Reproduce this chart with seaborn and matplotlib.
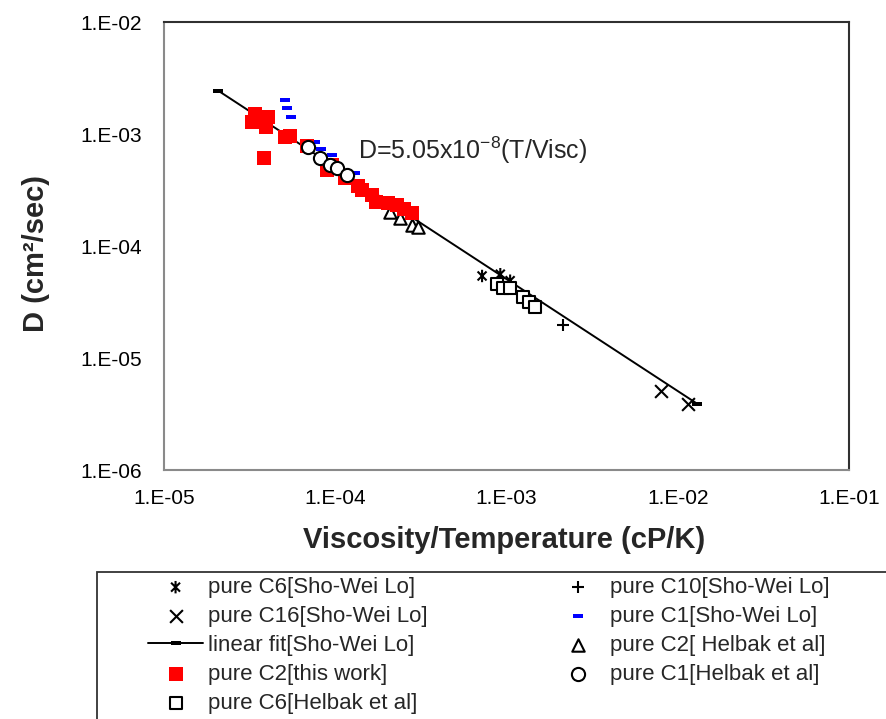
import matplotlib
matplotlib.use("Agg")
import matplotlib.pyplot as plt
from matplotlib.path import Path
from matplotlib.patches import Rectangle
import seaborn as sns

# ---------------- data ----------------
c6_swl_x = [7.2e-4, 9.2e-4, 1.05e-3]
c6_swl_y = [5.4e-5, 5.6e-5, 4.9e-5]

c16_swl_x = [7.98e-3, 1.15e-2]
c16_swl_y = [5.07e-6, 3.9e-6]

fit_x = [2.07e-5, 1.30e-2]
fit_y = [2.44e-3, 3.9e-6]

c2_this_x = [3.40e-5, 3.27e-5, 4.05e-5, 3.94e-5, 3.84e-5, 5.09e-5, 5.45e-5, 6.84e-5,
             8.95e-5, 9.6e-5, 1.14e-4, 1.36e-4, 1.43e-4, 1.64e-4, 1.73e-4, 2.03e-4,
             2.30e-4, 2.52e-4, 2.80e-4]
c2_this_y = [1.51e-3, 1.28e-3, 1.42e-3, 1.155e-3, 6.1e-4, 9.4e-4, 9.6e-4, 7.8e-4,
             4.77e-4, 5.3e-4, 4.05e-4, 3.43e-4, 3.16e-4, 2.85e-4, 2.47e-4, 2.42e-4,
             2.32e-4, 2.14e-4, 1.97e-4]

c6_hel_x = [8.8e-4, 9.54e-4, 1.05e-3, 1.25e-3, 1.35e-3, 1.47e-3]
c6_hel_y = [4.58e-5, 4.22e-5, 4.22e-5, 3.5e-5, 3.16e-5, 2.85e-5]

c10_swl_x = [2.14e-3]
c10_swl_y = [1.97e-5]

c1_swl_x = [5.09e-5, 5.23e-5, 5.52e-5, 7.62e-5, 8.26e-5, 9.58e-5, 1.30e-4]
c1_swl_y = [2.01e-3, 1.71e-3, 1.42e-3, 8.5e-4, 7.35e-4, 6.5e-4, 4.49e-4]

c2_hel_x = [2.09e-4, 2.39e-4, 2.81e-4, 3.04e-4]
c2_hel_y = [2.01e-4, 1.78e-4, 1.54e-4, 1.48e-4]

c1_hel_x = [6.93e-5, 8.15e-5, 9.32e-5, 1.02e-4, 1.17e-4]
c1_hel_y = [7.65e-4, 6.1e-4, 5.28e-4, 4.97e-4, 4.3e-4]

x_ticks = [1e-5, 1e-4, 1e-3, 1e-2, 1e-1]
x_tick_labels = ["1.E-05", "1.E-04", "1.E-03", "1.E-02", "1.E-01"]
y_ticks = [1e-6, 1e-5, 1e-4, 1e-3, 1e-2]
y_tick_labels = ["1.E-06", "1.E-05", "1.E-04", "1.E-03", "1.E-02"]

labels = {
    "c6_swl": "pure C6[Sho-Wei Lo]",
    "c16_swl": "pure C16[Sho-Wei Lo]",
    "fit": "linear fit[Sho-Wei Lo]",
    "c2_this": "pure C2[this work]",
    "c6_hel": "pure C6[Helbak et al]",
    "c10_swl": "pure C10[Sho-Wei Lo]",
    "c1_swl": "pure C1[Sho-Wei Lo]",
    "c2_hel": "pure C2[ Helbak et al]",
    "c1_hel": "pure C1[Helbak et al]",
}
legend_order = ["c6_swl", "c16_swl", "fit", "c2_this", "c6_hel",
                "c10_swl", "c1_swl", "c2_hel", "c1_hel"]

# ---------------- style ----------------
sns.set_style("white")
plt.rcParams["font.family"] = ["Liberation Sans", "DejaVu Sans"]
plt.rcParams["mathtext.fontset"] = "custom"
plt.rcParams["mathtext.rm"] = "Liberation Sans"
plt.rcParams["mathtext.it"] = "Liberation Sans:italic"
plt.rcParams["mathtext.bf"] = "Liberation Sans:bold"

W, H = 887, 719
fig = plt.figure(figsize=(W / 100, H / 100), dpi=100)
ax = fig.add_axes([164 / W, 1 - 470 / H, (849 - 164) / W, (470 - 22) / H])
ax.set_xscale("log")
ax.set_yscale("log")

dash_marker = [(-1, -0.4), (1, -0.4), (1, 0.4), (-1, 0.4), (-1, -0.4)]
star_path = Path([(0, -1), (0, 1), (-0.72, -0.72), (0.72, 0.72), (-0.72, 0.72), (0.72, -0.72)],
                 [Path.MOVETO, Path.LINETO, Path.MOVETO, Path.LINETO, Path.MOVETO, Path.LINETO])

# linear fit
sns.lineplot(x=fit_x, y=fit_y, ax=ax, color="black", linewidth=1.4, marker=dash_marker,
             markersize=6.5, markeredgewidth=0, label=labels["fit"], zorder=1, sort=False)
# C16 Sho-Wei Lo
sns.scatterplot(x=c16_swl_x, y=c16_swl_y, ax=ax, marker="x", s=85, color="black",
                linewidth=1.5, label=labels["c16_swl"], zorder=2)
# C6 Sho-Wei Lo
sns.scatterplot(x=c6_swl_x, y=c6_swl_y, ax=ax, marker=star_path, s=80, color="black",
                facecolor="none", edgecolor="black", linewidth=1.5,
                label=labels["c6_swl"], zorder=2)
# C10 Sho-Wei Lo
sns.scatterplot(x=c10_swl_x, y=c10_swl_y, ax=ax, marker="+", s=85, color="black",
                linewidth=1.5, label=labels["c10_swl"], zorder=2)
# C1 Sho-Wei Lo
sns.scatterplot(x=c1_swl_x, y=c1_swl_y, ax=ax, marker=dash_marker, s=55, color="#0000ff",
                edgecolor="#0000ff", linewidth=0, label=labels["c1_swl"], zorder=3)
# C2 Helbak
sns.scatterplot(x=c2_hel_x, y=c2_hel_y, ax=ax, marker="^", s=80, color="white",
                edgecolor="black", linewidth=1.5, label=labels["c2_hel"], zorder=3)
# C2 this work
sns.scatterplot(x=c2_this_x, y=c2_this_y, ax=ax, marker="s", s=110, color="#ff0000",
                edgecolor="#ff0000", linewidth=0, label=labels["c2_this"], zorder=4)
# C6 Helbak
sns.scatterplot(x=c6_hel_x, y=c6_hel_y, ax=ax, marker="s", s=72, color="white",
                edgecolor="black", linewidth=1.5, label=labels["c6_hel"], zorder=5)
# C1 Helbak
sns.scatterplot(x=c1_hel_x, y=c1_hel_y, ax=ax, marker="o", s=90, color="white",
                edgecolor="black", linewidth=1.5, label=labels["c1_hel"], zorder=6)

ax.set_xlim(x_ticks[0], x_ticks[-1])
ax.set_ylim(y_ticks[0], y_ticks[-1])
ax.set_xticks(x_ticks)
ax.set_xticklabels(x_tick_labels)
ax.set_yticks(y_ticks)
ax.set_yticklabels(y_tick_labels)
ax.minorticks_off()
ax.tick_params(axis="both", length=0, labelsize=15, colors="black")
ax.tick_params(axis="x", pad=14)
ax.tick_params(axis="y", pad=16)
ax.grid(False)

for side in ["left", "bottom"]:
    ax.spines[side].set_color("#8a8a8a")
    ax.spines[side].set_linewidth(1.5)
for side in ["top", "right"]:
    ax.spines[side].set_color("#303030")
    ax.spines[side].set_linewidth(1.5)

ax.set_xlabel("Viscosity/Temperature (cP/K)", fontsize=21, fontweight="bold")
ax.set_ylabel("D (cm\u00b2/sec)", fontsize=21, fontweight="bold")
ax.xaxis.set_label_coords((504 - 164) / 685, -(526 - 470) / 448)
ax.yaxis.set_label_coords((50 - 164) / 685, 1 - (253 - 22) / 448)

ax.text((358 - 164) / 685, 1 - (150 - 22) / 448, r"D=5.05x10$^{-8}$(T/Visc)",
        transform=ax.transAxes, fontsize=18, ha="left", va="center", zorder=7)

# legend
handles, labs = ax.get_legend_handles_labels()
hmap = dict(zip(labs, handles))
ordered = [hmap[labels[k]] for k in legend_order]
ordered_labels = [labels[k] for k in legend_order]
leg = ax.legend(ordered, ordered_labels, ncol=2, loc="upper left",
                bbox_to_anchor=(148 / W, 1 - 577 / H), bbox_transform=fig.transFigure,
                frameon=False, fontsize=16, borderpad=0, borderaxespad=0,
                handlelength=2.48, handletextpad=0.23, labelspacing=0.36,
                columnspacing=5.5, markerscale=1.0)

frame = Rectangle((97 / W, -0.2), 1.0, 0.2 + (H - 572) / H, transform=fig.transFigure,
                  facecolor="none", edgecolor="#333333", linewidth=1.3, clip_on=False)
fig.add_artist(frame)

fig.savefig("out.png", dpi=100)
